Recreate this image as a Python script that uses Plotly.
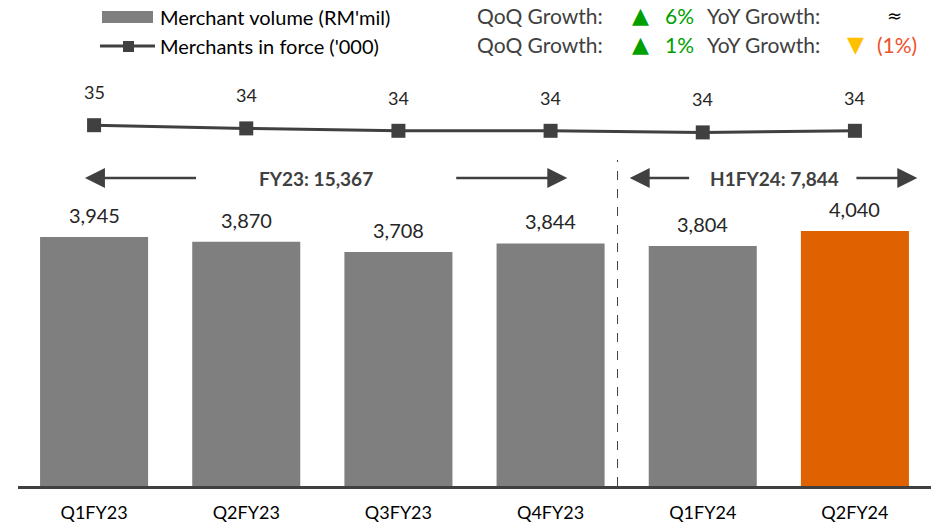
import plotly.graph_objects as go

quarters = ["Q1FY23", "Q2FY23", "Q3FY23", "Q4FY23", "Q1FY24", "Q2FY24"]
volume = [3945, 3870, 3708, 3844, 3804, 4040]
merchants = [34.8, 34.4, 34.1, 34.1, 33.9, 34.1]
bar_colors = ["#7F7F7F"] * 5 + ["#E06100"]

W, H = 936, 528
L, R, B = 18, 5, 42
PW = W - L - R
PH = H - B


def px(x):
    # reference pixel x -> paper x
    return (x - L) / PW


def py(y):
    # reference pixel y -> paper y
    return (PH - y) / PH


font = "Lato, Open Sans, sans-serif"
dark = "#404040"

fig = go.Figure()

fig.add_trace(go.Bar(
    x=quarters, y=volume,
    marker=dict(color=bar_colors, line=dict(width=0)),
    width=0.71,
    showlegend=False,
))

fig.add_trace(go.Scatter(
    x=quarters, y=merchants, yaxis="y2",
    mode="lines+markers",
    line=dict(color=dark, width=3),
    marker=dict(symbol="square", size=14, color=dark),
    showlegend=False,
))

# bar value labels
for q, v in zip(quarters, volume):
    fig.add_annotation(x=q, y=v, yref="y", text=f"{v:,}", showarrow=False,
                       yanchor="bottom", yshift=8,
                       font=dict(family=font, size=20, color="#262626"))

# line value labels
for q, m in zip(quarters, merchants):
    fig.add_annotation(x=q, y=m, yref="y2", text=f"{m:.0f}", showarrow=False,
                       yshift=33, font=dict(family=font, size=18, color="#262626"))

# period arrows and totals
arrow_y = (486 - 178) / 0.0631
periods = [
    (-0.06, 0.68, 1.46, "FY23: 15,367", 2.37, 3.11),
    (3.52, 3.92, 4.47, "H1FY24: 7,844", 5.0, 5.41),
]
for lh, lt, tx, label, rt, rh in periods:
    for head, tail in [(lh, lt), (rh, rt)]:
        fig.add_annotation(x=head, y=arrow_y, ax=tail, ay=arrow_y, xref="x", yref="y",
                           axref="x", ayref="y", showarrow=True, arrowhead=2,
                           arrowsize=1.6, arrowwidth=2.5, arrowcolor=dark, text="")
    fig.add_annotation(x=tx, y=arrow_y, xref="x", yref="y", text=f"<b>{label}</b>",
                       showarrow=False, font=dict(family=font, size=19, color=dark))

fig.add_shape(type="line", x0=3.44, x1=3.44, xref="x", y0=0, y1=py(160), yref="paper",
              line=dict(color=dark, width=1, dash="dash"))


def note(x, y, text, size, color, family=font, xanchor="left"):
    fig.add_annotation(xref="paper", yref="paper", x=px(x), y=py(y), text=text,
                       xanchor=xanchor, yanchor="middle", showarrow=False,
                       font=dict(family=family, size=size, color=color))


# manual legend
fig.add_shape(type="rect", xref="paper", yref="paper", x0=px(102), x1=px(153),
              y0=py(23), y1=py(11), fillcolor="#7F7F7F", line=dict(width=0))
fig.add_shape(type="line", xref="paper", yref="paper", x0=px(100), x1=px(155),
              y0=py(46), y1=py(46), line=dict(color=dark, width=3))
fig.add_shape(type="rect", xref="paper", yref="paper", x0=px(123), x1=px(134),
              y0=py(52), y1=py(41), fillcolor=dark, line=dict(width=0))
note(158, 17, "Merchant volume (RM'mil)", 20, "#000000")
note(158, 46, "Merchants in force ('000)", 20, "#000000")

# growth indicators
growth_rows = [
    (16, "6%", "≈", "#000000", ""),
    (45, "1%", "▼", "#FFC000", "(1%)"),
]
green = "#00A000"
for y, qv, ys, yc, yv in growth_rows:
    note(475, y, "QoQ Growth:", 21, dark)
    note(640, y, "▲", 22, green, family="DejaVu Sans", xanchor="center")
    note(663, y, qv, 21, green)
    note(705, y, "YoY Growth:", 21, dark)
    if ys == "≈":
        note(894, y, ys, 18, yc, family="DejaVu Sans", xanchor="center")
    else:
        note(855, y, ys, 22, yc, family="DejaVu Sans", xanchor="center")
    if yv:
        note(875, y, yv, 21, "#F0502A")

fig.update_layout(
    width=W, height=H,
    margin=dict(l=L, r=R, t=0, b=B),
    plot_bgcolor="white", paper_bgcolor="white",
    bargap=0.29,
    xaxis=dict(showline=True, linewidth=3, linecolor=dark, ticks="", ticklabelstandoff=8,
               tickfont=dict(family=font, size=18, color="#000000"), showgrid=False),
    yaxis=dict(range=[0, PH / 0.0631], visible=False, showgrid=False),
    yaxis2=dict(range=[-10.3, -10.3 + PH / 8], overlaying="y", visible=False, showgrid=False),
)

# drop the browser's default 8px body margin so the figure fills the window
fig.write_html("out.html", config={"displayModeBar": False},
               post_script="document.body.style.margin='0';")
